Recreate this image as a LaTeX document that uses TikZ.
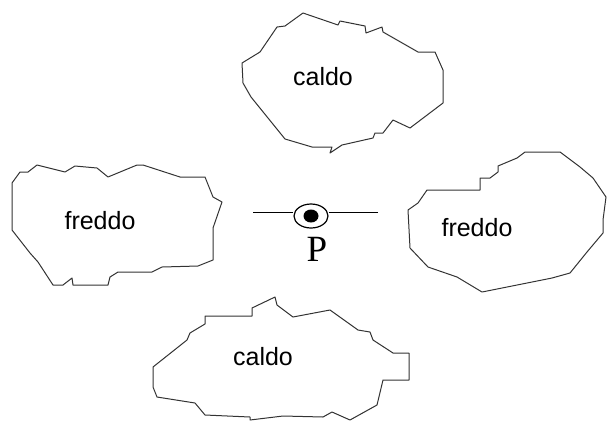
\documentclass[tikz,border=0pt]{standalone}
\usepackage{fontspec}
\usetikzlibrary{shapes.geometric}
\setmainfont{Liberation Sans}
\newfontfamily\pfont{Liberation Serif}
\begin{document}
\begin{tikzpicture}[x=1pt,y=-1pt,
  blob/.style={draw=black!80,line width=1pt,line join=round},
  lab/.style={font=\fontsize{25}{25}\selectfont,inner sep=0pt},
  axisline/.style={draw=black,line width=1pt}]
\useasboundingbox (0,0) rectangle (607,424);
% top caldo
\draw[blob] (303,13) -- (338,25) -- (340,21) -- (365,26) -- (366,33) -- (382,27) -- (383,32) -- (418,52) -- (435,52) -- (443,70) -- (443,103) -- (410,128) -- (393,120) -- (383,133) -- (375,133) -- (373,138) -- (342,145) -- (330,153) -- (332,147) -- (312,147) -- (285,139) -- (251,97) -- (243,83) -- (242,63) -- (260,52) -- (277,27) -- (285,26) -- cycle;
\node[lab] (c1) at (323,77) {caldo};
% left freddo
\draw[blob] (20,172) -- (28,172) -- (37,165) -- (65,172) -- (75,166) -- (97,168) -- (108,177) -- (137,165) -- (143,165) -- (180,177) -- (205,177) -- (213,197) -- (222,202) -- (213,228) -- (213,260) -- (198,266) -- (162,267) -- (152,272) -- (118,272) -- (110,277) -- (108,285) -- (73,285) -- (72,278) -- (63,285) -- (53,285) -- (38,262) -- (30,253) -- (12,230) -- (12,183) -- cycle;
\node[lab] (f1) at (100,221) {freddo};
% right freddo
\draw[blob] (525,152) -- (560,152) -- (580,167) -- (593,178) -- (606,197) -- (603,220) -- (603,233) -- (587,252) -- (570,273) -- (552,278) -- (482,292) -- (457,277) -- (428,267) -- (410,248) -- (408,210) -- (418,203) -- (427,190) -- (480,190) -- (480,178) -- (490,178) -- (498,172) -- (498,166) -- (517,158) -- cycle;
\node[lab] (f2) at (477,228) {freddo};
% bottom caldo
\draw[blob] (275,297) -- (277,305) -- (293,317) -- (330,310) -- (358,330) -- (370,332) -- (373,340) -- (393,353) -- (409,353) -- (409,380) -- (383,380) -- (377,405) -- (350,420) -- (332,412) -- (323,417) -- (283,416) -- (250,420) -- (250,417) -- (205,415) -- (195,403) -- (157,397) -- (153,387) -- (153,367) -- (187,340) -- (190,333) -- (205,324) -- (205,316) -- (252,316) -- (252,308) -- cycle;
\node[lab] (c2) at (263,357) {caldo};
% point P
\node[draw=black,line width=1.2pt,ellipse,minimum width=34pt,minimum height=24pt,inner sep=0pt] (pe) at (311,216) {};
\fill[black] (311,216) ellipse (7.5 and 6.5);
\coordinate (ll) at (253,212);
\coordinate (rr) at (378,212);
\draw[axisline] (ll) -- (ll -| pe.west);
\draw[axisline] (rr) -- (rr -| pe.east);
\node[inner sep=0pt,font=\pfont\fontsize{37}{37}\selectfont] (p) at (317,249) {P};
\end{tikzpicture}
\end{document}
